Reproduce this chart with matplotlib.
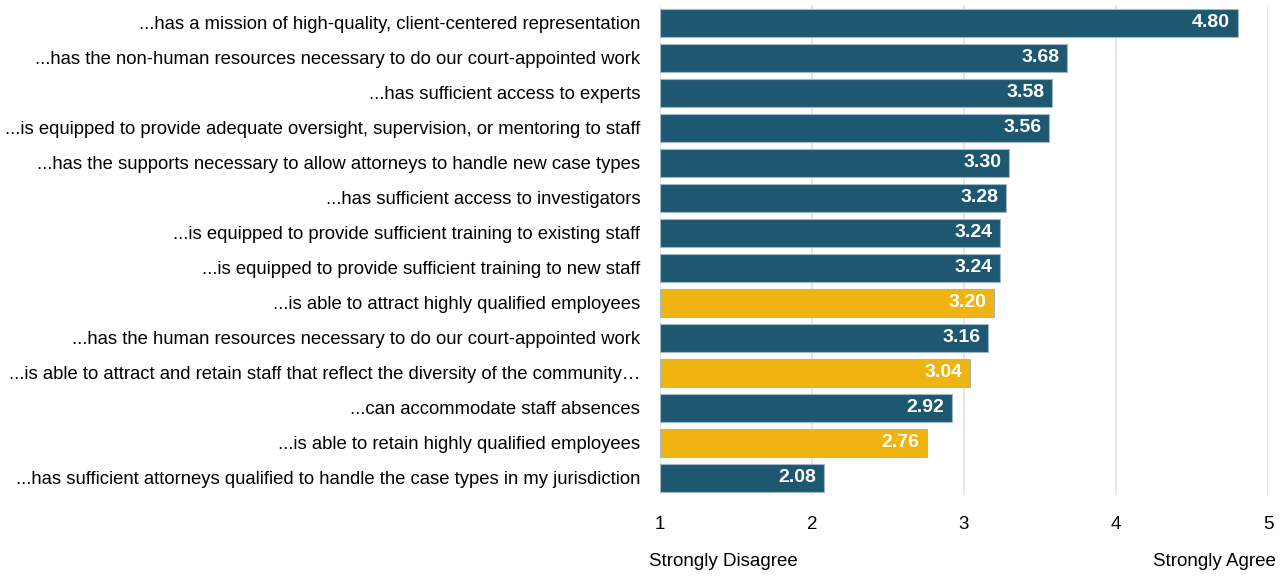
import matplotlib
matplotlib.use('Agg')
import matplotlib.pyplot as plt
from matplotlib import font_manager

# Survey statements and mean agreement scores (1 = Strongly Disagree, 5 = Strongly Agree)
statements = [
    '...has a mission of high-quality, client-centered representation',
    '...has the non-human resources necessary to do our court-appointed work',
    '...has sufficient access to experts',
    '...is equipped to provide adequate oversight, supervision, or mentoring to staff',
    '...has the supports necessary to allow attorneys to handle new case types',
    '...has sufficient access to investigators',
    '...is equipped to provide sufficient training to existing staff',
    '...is equipped to provide sufficient training to new staff',
    '...is able to attract highly qualified employees',
    '...has the human resources necessary to do our court-appointed work',
    '...is able to attract and retain staff that reflect the diversity of the community\u2026',
    '...can accommodate staff absences',
    '...is able to retain highly qualified employees',
    '...has sufficient attorneys qualified to handle the case types in my jurisdiction',
]
scores = [4.80, 3.68, 3.58, 3.56, 3.30, 3.28, 3.24, 3.24, 3.20, 3.16, 3.04, 2.92, 2.76, 2.08]
# staffing items that get highlighted
highlight = [False, False, False, False, False, False, False, False, True, False, True, False, True, False]

ticks = [1, 2, 3, 4, 5]

TEAL = '#1D5870'
GOLD = '#F0B411'

installed = {f.name for f in font_manager.fontManager.ttflist}
family = ['Liberation Sans Narrow'] if 'Liberation Sans Narrow' in installed else []
plt.rcParams['font.family'] = family + ['Liberation Sans', 'DejaVu Sans']

fig = plt.figure(figsize=(12.86, 5.77), dpi=100, facecolor='white')
ax = fig.add_axes([0.513, 0.142, 0.473, 0.849])

ypos = list(range(len(statements)))
colours = [GOLD if h else TEAL for h in highlight]
widths = [s - ticks[0] for s in scores]
ax.barh(ypos, widths, left=ticks[0], height=0.8, color=colours,
        edgecolor='#9FB8C6', linewidth=0.8, zorder=3)

for y, s in zip(ypos, scores):
    ax.text(s - 0.05, y, f'{s:.2f}', ha='right', va='center', color='white',
            fontsize=14, fontweight='bold', zorder=4)

ax.set_xlim(1, 5)
ax.set_ylim(len(statements) - 0.5, -0.5)
ax.set_xticks(ticks)
ax.set_xticklabels([str(t) for t in ticks], fontsize=13.5)
ax.set_yticks(ypos)
ax.set_yticklabels(statements, fontsize=13.3)
ax.tick_params(axis='both', length=0)
ax.tick_params(axis='y', pad=14)
ax.tick_params(axis='x', pad=15)

ax.xaxis.grid(True, color='#E3E3E3', linewidth=1.2, zorder=0)
ax.set_axisbelow(True)
for sp in ax.spines.values():
    sp.set_visible(False)

fig.text(0.505, 0.027, 'Strongly Disagree', ha='left', va='center', fontsize=13.5)
fig.text(0.992, 0.027, 'Strongly Agree', ha='right', va='center', fontsize=13.5)

fig.savefig('out.png', dpi=100, facecolor='white')
